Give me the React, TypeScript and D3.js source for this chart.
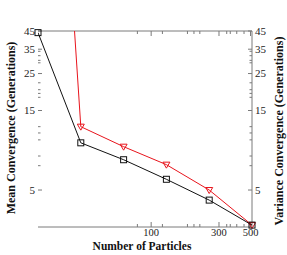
import * as d3 from 'd3';
import React from 'react';

// particle counts (log x axis)
const particles = [16, 32, 64, 128, 256, 512];
// mean convergence, generations
const meanGen = [44, 9.6, 7.6, 5.8, 4.35, 3.08];
// variance convergence, generations (first one runs far off the top)
const varGen = [100000, 12.0, 9.1, 7.1, 5.0, 3.08];

const yMajor = [5, 15, 25, 35, 45];
const yMinor = [7, 8, 10, 11, 12, 18, 19, 20, 22, 29, 30, 32, 34];
const xLabels = ['100', '300', '500'];
const xMinor = [80, 120, 180, 200, 220, 340, 360, 400, 450];

const W = 287;
const H = 255;
const margin = { top: 31, right: 35, bottom: 28, left: 38 };

export default function App() {
	const x = d3
		.scaleLog()
		.domain([16, 512])
		.range([margin.left, W - margin.right]);
	const y = d3
		.scaleLog()
		.domain([3, 45])
		.range([H - margin.bottom, margin.top]);

	const line = d3
		.line<number>()
		.x((d, i) => x(particles[i]))
		.y(d => y(d));

	const x0 = margin.left;
	const x1 = W - margin.right;
	const y0 = H - margin.bottom;
	const y1 = margin.top;
	const axisColor = '#7a7a7a';
	const font = 'Liberation Serif, DejaVu Serif, serif';

	return (
		<svg
			width={W}
			height={H}
			style={{ position: 'absolute', left: 0, top: 0, background: '#fff' }}
			fontFamily={font}
		>
			<defs>
				<clipPath id="plot">
					<rect x={x0} y={y1} width={x1 - x0} height={y0 - y1} />
				</clipPath>
			</defs>

			{/* frame: top, right, bottom */}
			<line x1={x0} x2={x1} y1={y1} y2={y1} stroke={axisColor} />
			<line x1={x1} x2={x1} y1={y1} y2={y0} stroke={axisColor} />
			<line x1={x0} x2={x1} y1={y0} y2={y0} stroke={axisColor} />

			{/* x ticks */}
			{xLabels.map(s => {
				const px = x(+s);
				return (
					<g key={'xM' + s}>
						<line x1={px} x2={px} y1={y0} y2={y0 - 5} stroke={axisColor} />
						<line x1={px} x2={px} y1={y1} y2={y1 + 5} stroke={axisColor} />
						<text x={px} y={y0 + 9} fontSize={10.5} textAnchor="middle" fill="#222">
							{s}
						</text>
					</g>
				);
			})}
			{xMinor.map(v => (
				<g key={'xm' + v}>
					<line x1={x(v)} x2={x(v)} y1={y0} y2={y0 - 3} stroke={axisColor} />
					<line x1={x(v)} x2={x(v)} y1={y1} y2={y1 + 3} stroke={axisColor} />
				</g>
			))}

			{/* y ticks, both sides */}
			{yMajor.map(v => (
				<g key={'yM' + v}>
					<line x1={x0} x2={x0 + 4} y1={y(v)} y2={y(v)} stroke={axisColor} />
					<line x1={x1} x2={x1 - 4} y1={y(v)} y2={y(v)} stroke={axisColor} />
					<text x={x0 - 3} y={y(v)} dy="0.35em" fontSize={11} textAnchor="end" fill="#222">
						{v}
					</text>
					<text x={x1 + 3} y={y(v)} dy="0.35em" fontSize={11} textAnchor="start" fill="#222">
						{v}
					</text>
				</g>
			))}
			{yMinor.map(v => (
				<g key={'ym' + v}>
					<line x1={x0} x2={x0 + 2.5} y1={y(v)} y2={y(v)} stroke={axisColor} />
					<line x1={x1} x2={x1 - 2.5} y1={y(v)} y2={y(v)} stroke={axisColor} />
				</g>
			))}

			{/* series */}
			<g clipPath="url(#plot)">
				<path d={line(varGen) || ''} fill="none" stroke="#e8141c" strokeWidth={1} />
				<path d={line(meanGen) || ''} fill="none" stroke="#111" strokeWidth={1} />
			</g>
			{varGen.map((v, i) =>
				v <= 45 ? (
					<path
						key={'t' + i}
						d={`M${x(particles[i]) - 3.5},${y(v) - 2.5}L${x(particles[i]) + 3.5},${y(v) - 2.5}L${x(particles[i])},${y(v) + 3.5}Z`}
						fill="none"
						stroke="#e8141c"
					/>
				) : null
			)}
			{meanGen.map((v, i) => (
				<rect
					key={'s' + i}
					x={x(particles[i]) - 3}
					y={y(v) - 3}
					width={6}
					height={6}
					fill="none"
					stroke="#111"
				/>
			))}

			{/* titles */}
			<text x={142} y={250} fontSize={11.5} fontWeight="bold" textAnchor="middle" fill="#111">
				Number of Particles
			</text>
			<text
				transform={`translate(11,${128}) rotate(-90)`}
				fontSize={12}
				fontWeight="bold"
				textAnchor="middle"
				dy="0.35em"
				fill="#111"
			>
				Mean Convergence (Generations)
			</text>
			<text
				transform={`translate(279,${131}) rotate(-90)`}
				fontSize={12}
				fontWeight="bold"
				textAnchor="middle"
				dy="0.35em"
				fill="#111"
			>
				Variance Convergence (Generations)
			</text>
		</svg>
	);
}
